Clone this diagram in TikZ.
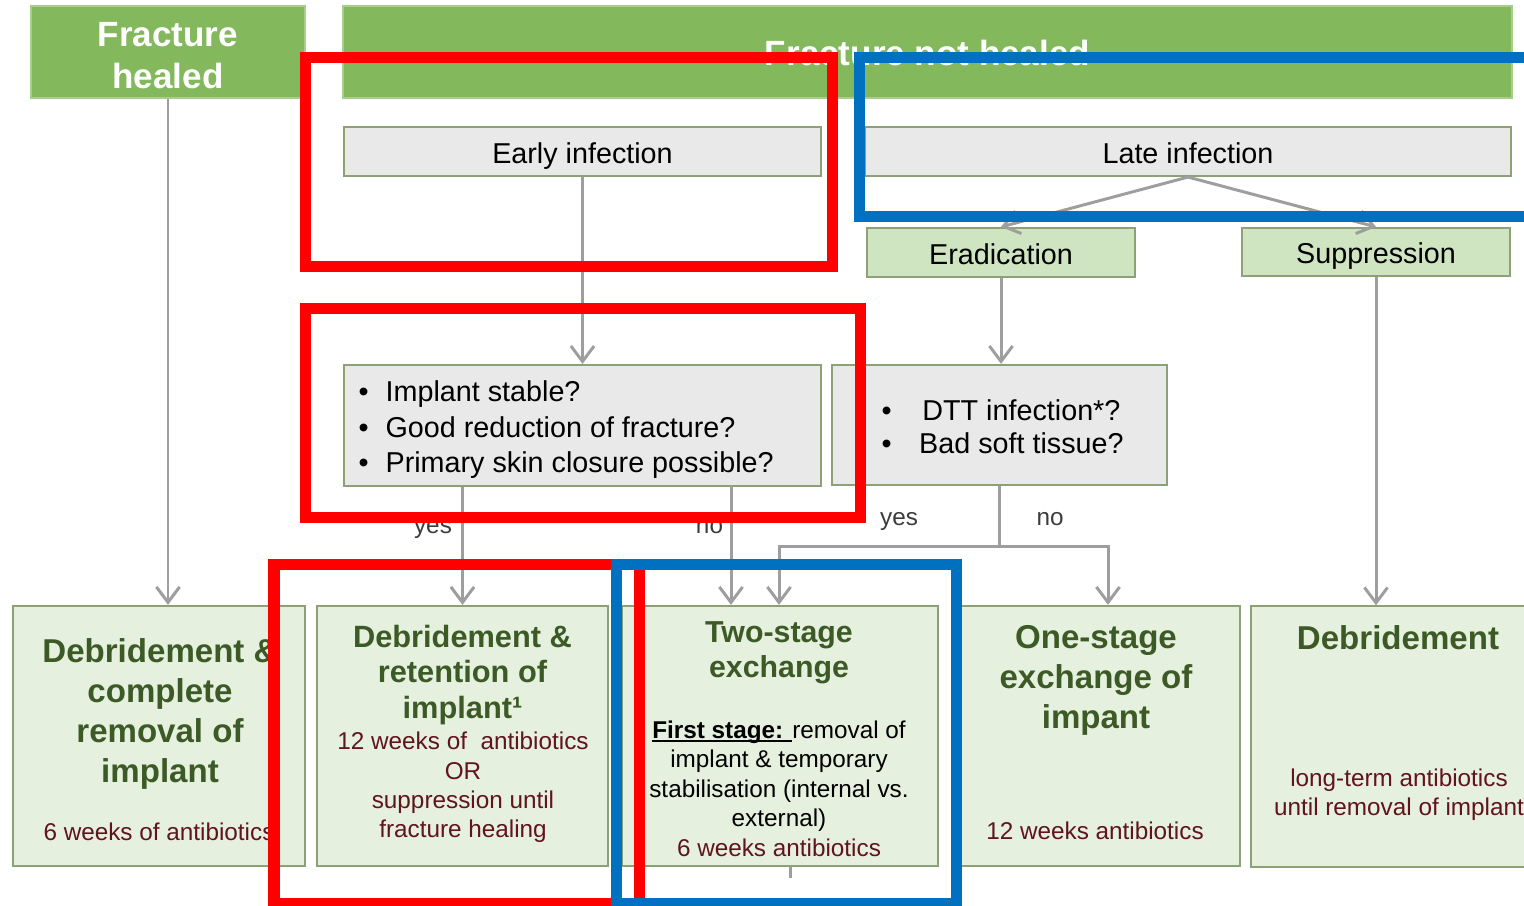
\documentclass[tikz,border=0pt]{standalone}
\usepackage{fontspec}
\setmainfont{Liberation Sans}
\usetikzlibrary{arrows.meta}
\definecolor{hdgreen}{RGB}{131,185,92}
\definecolor{hdedge}{RGB}{170,205,142}
\definecolor{qgray}{RGB}{233,233,233}
\definecolor{boxedge}{RGB}{140,162,118}
\definecolor{pathgreen}{RGB}{207,228,192}
\definecolor{outgreen}{RGB}{230,240,222}
\definecolor{titlegreen}{RGB}{60,90,38}
\definecolor{abred}{RGB}{95,20,30}
\definecolor{linegray}{RGB}{158,158,158}
\definecolor{labgray}{RGB}{60,60,60}
\definecolor{markred}{RGB}{255,0,0}
\definecolor{markblue}{RGB}{0,112,192}

\begin{document}
\begin{tikzpicture}[x=0.01cm, y=-0.01cm,
  header/.style={fill=hdgreen, draw=hdedge, line width=0.6pt, text=white,
    font=\fontsize{9.96pt}{11.95pt}\selectfont\bfseries, align=center, inner sep=0pt},
  qbox/.style={fill=qgray, draw=boxedge, line width=0.6pt, text height=7.5pt, text depth=0.8pt,
    font=\fontsize{8.17pt}{9.96pt}\selectfont, inner sep=0pt},
  pathbox/.style={qbox, fill=pathgreen},
  outcome/.style={fill=outgreen, draw=boxedge, line width=0.6pt, minimum height=2.60cm, inner sep=0pt},
  qtext/.style={font=\fontsize{8.17pt}{9.96pt}\selectfont, inner sep=0pt, anchor=west},
  bigtitle/.style={text=titlegreen, font=\fontsize{9.4pt}{11.38pt}\selectfont\bfseries,
    align=center, inner sep=0pt, anchor=north},
  stagetitle/.style={bigtitle, font=\fontsize{8.75pt}{10.1pt}\selectfont\bfseries},
  dose/.style={text=abred, font=\fontsize{6.91pt}{8.34pt}\selectfont, align=center,
    inner sep=0pt, anchor=north},
  yesno/.style={text=labgray, font=\fontsize{6.91pt}{8.3pt}\selectfont, inner sep=0pt, anchor=base},
  arr/.style={draw=linegray, line width=0.85pt, -{Straight Barb[length=4.4pt,width=6.6pt]}},
  markbox/.style={line width=3.13pt}]
  \useasboundingbox (0,0) rectangle (1524,905);
  \clip (0,0) rectangle (1524,905);

  % headers
  \node[header, minimum width=2.74cm, minimum height=0.92cm] (healed) at (168,52) {\rule{0pt}{8.8pt}Fracture\\healed};
  \node[header, minimum width=11.69cm, minimum height=0.92cm, text height=7.4pt, text depth=0pt] (nothealed) at (927.5,52) {Fracture not healed};

  % infection type
  \node[qbox, minimum width=4.77cm, minimum height=0.49cm] (early) at (582.5,151.5) {Early infection};
  \node[qbox, minimum width=6.46cm, minimum height=0.49cm] (late) at (1188,151.5) {Late infection};
  \node[pathbox, minimum width=2.68cm, minimum height=0.49cm] (erad) at (1001,252.5) {Eradication};
  \node[pathbox, minimum width=2.68cm, minimum height=0.48cm] (supp) at (1376,252) {Suppression};

  % questions
  \node[qbox, minimum width=4.77cm, minimum height=1.21cm] (q1) at (582.5,425.5) {};
  \node[qtext] (q1txt) at (358,430) {\begin{tabular}{@{}l@{\hspace{4.8pt}}l@{}}
    \textbullet & Implant stable?\\
    \textbullet & Good reduction of fracture?\\
    \textbullet & Primary skin closure possible?\end{tabular}};
  \node[qbox, minimum width=3.35cm, minimum height=1.20cm] (q2) at (999.5,425) {};
  \node[qtext, font=\fontsize{8.17pt}{9.39pt}\selectfont] (q2txt) at (881,430) {\begin{tabular}{@{}l@{\hspace{7.8pt}}c@{}}
    \textbullet & DTT infection*?\\
    \textbullet & Bad soft tissue?\end{tabular}};

  % outcomes
  \node[outcome, minimum width=2.92cm] (b1) at (159,736) {};
  \node[outcome, minimum width=2.91cm] (b2) at (462.5,736) {};
  \node[outcome, minimum width=3.16cm] (b3) at (780,736) {};
  \node[outcome, minimum width=2.80cm] (b4) at (1100,736) {};
  \node[outcome, minimum width=2.94cm] (b5) at (1398,736.5) {};

  \node[bigtitle] (b1title) at (160,638) {Debridement \&\\complete\\removal of\\implant};
  \node[dose] (b1dose) at (159,822) {6 weeks of antibiotics};
  \node[stagetitle] (b2title) at (462.5,624) {Debridement \&\\retention of\\implant¹};
  \node[dose] (b2dose) at (463,731.5) {12 weeks of~ antibiotics\\OR\\suppression until\\fracture healing};
  \node[stagetitle, font=\fontsize{8.62pt}{9.96pt}\selectfont\bfseries] (b3title) at (779,621) {Two-stage\\exchange};
  \node[dose, text=black, font=\fontsize{6.91pt}{8.39pt}\selectfont] (b3dose) at (779,720)
    {\sbox0{\textbf{First stage: }}\rlap{\rule[-1.1pt]{\wd0}{0.6pt}}\usebox0removal of\\implant \& temporary\\stabilisation (internal vs.\\external)\\\textcolor{abred}{6 weeks antibiotics}};
  \node[bigtitle] (b4title) at (1096,625) {One-stage\\exchange of\\impant};
  \node[dose] (b4dose) at (1095,821) {12 weeks antibiotics};
  \node[bigtitle] (b5title) at (1398,625) {Debridement};
  \node[dose, font=\fontsize{6.91pt}{8.25pt}\selectfont] (b5dose) at (1399,768.5) {long-term antibiotics\\until removal of implant};

  % connectors
  \draw[arr] (healed.south) -- (healed.south |- b1.north);
  \draw[arr] (early.south) -- (q1.north);
  \draw[arr] (late.south) -- (erad.north);
  \draw[arr] (late.south) -- (supp.north);
  \draw[arr] (erad.south) -- (erad.south |- q2.north);
  \draw[arr] (supp.south) -- (supp.south |- b5.north);
  \draw[arr] (b2.north |- q1.south) -- (b2.north);
  \coordinate (q1no) at (731,486);
  \draw[arr] (q1no) -- (q1no |- b3.north);
  \coordinate (q2yes) at (779,546);
  \coordinate (q2no) at (1108,546);
  \draw[arr] (q2.south) -- (q2.south |- q2yes) -- (q2yes) -- (q2yes |- b3.north);
  \draw[arr] (q2.south |- q2yes) -- (q2no) -- (q2no |- b4.north);
  \coordinate (stub) at (790,878);
  \draw[linegray, line width=0.85pt] (stub |- b3.south) -- (stub);

  \node[yesno] (lab1yes) at (433,533) {yes};
  \node[yesno] (lab1no) at (709.5,533) {no};
  \node[yesno] (lab2yes) at (899,525) {yes};
  \node[yesno] (lab2no) at (1050,525) {no};

  % highlight frames
  \draw[markbox, markred] (305.5,57.5) rectangle (832.5,266.5);
  \draw[markbox, markred] (305.5,308.5) rectangle (860.5,517.5);
  \draw[markbox, markblue] (859,57.5) rectangle (1560,216.5);
  \draw[markbox, markred] (274,564) rectangle (639,903);
  \draw[markbox, markblue] (616,564) rectangle (956,903);
\end{tikzpicture}
\end{document}
